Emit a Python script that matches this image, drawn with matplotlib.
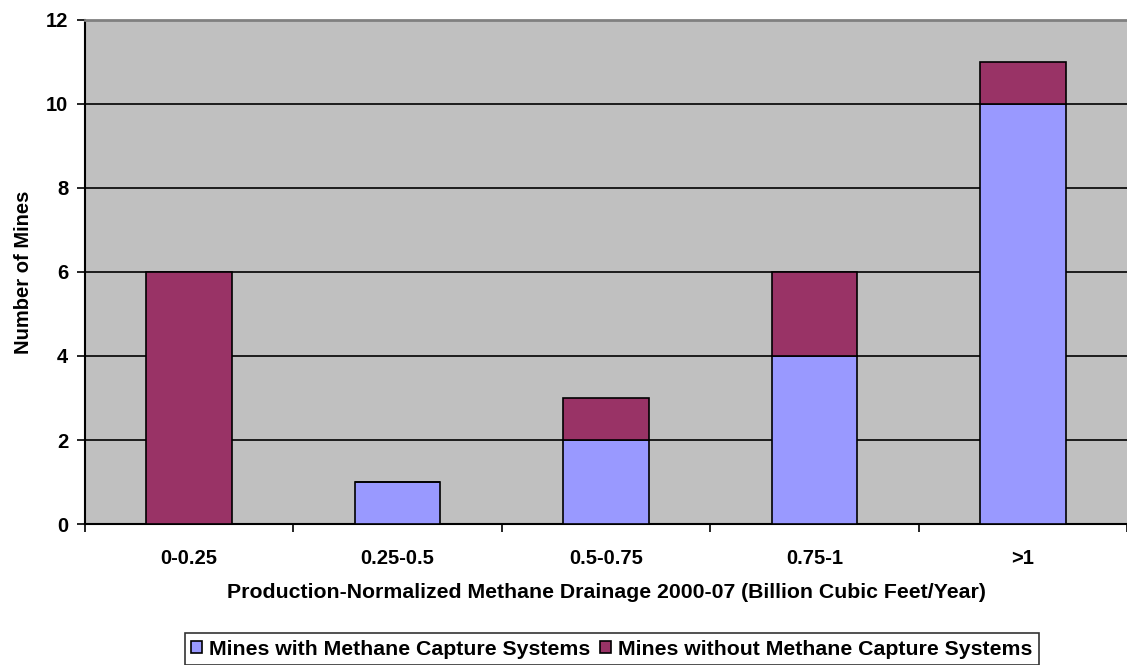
import matplotlib
matplotlib.use("Agg")
from matplotlib import pyplot as plt
import numpy as np

plt.rcParams['font.family'] = ['Liberation Sans', 'DejaVu Sans']
plt.rcParams['font.weight'] = 'bold'

categories = ['0-0.25', '0.25-0.5', '0.5-0.75', '0.75-1', '>1']
with_capture = [0, 1, 2, 4, 10]
without_capture = [6, 0, 1, 2, 1]

fs = 14.5
fs_big = 15.3

fig = plt.figure(figsize=(11.27, 6.65), dpi=100)
ax = fig.add_axes([0.0754, 0.212, 0.9246, 0.758])
ax.set_facecolor('#C0C0C0')

x = np.arange(len(categories))
w = 0.41
ax.bar(x, with_capture, w, color='#9999FF', edgecolor='black', linewidth=1.2,
       label='Mines with Methane Capture Systems', zorder=3)
ax.bar(x, without_capture, w, bottom=with_capture, color='#993366',
       edgecolor='black', linewidth=1.2,
       label='Mines without Methane Capture Systems', zorder=3)

ax.set_xlim(-0.5, len(categories) - 0.5)
ax.set_ylim(0, 12)
ax.set_yticks(range(0, 13, 2))
ax.yaxis.grid(True, color='black', linewidth=1.2, zorder=1)
ax.set_axisbelow(True)

ax.set_xticks(x)
ax.set_xticklabels(categories, fontsize=fs, fontweight='bold')
ax.tick_params(axis='x', length=0, pad=18)
ax.set_xticks(np.arange(-0.5, len(categories), 1), minor=True)
ax.tick_params(axis='x', which='minor', length=6, width=1.2, direction='out')
ax.tick_params(axis='y', length=6, width=1.2, labelsize=fs, pad=6)
for lab in ax.get_yticklabels():
    lab.set_fontweight('bold')

ax.spines['left'].set_linewidth(1.5)
ax.spines['bottom'].set_linewidth(1.5)
ax.spines['right'].set_visible(False)
ax.spines['top'].set_color('#808080')
ax.spines['top'].set_linewidth(2)

ax.set_xlabel('Production-Normalized Methane Drainage 2000-07 (Billion Cubic Feet/Year)',
              fontsize=fs_big, fontweight='bold', labelpad=11)
ax.set_ylabel('Number of Mines', fontsize=fs, fontweight='bold', labelpad=9)

leg = fig.legend(loc='center', bbox_to_anchor=(0.543, 0.0235), ncol=2,
                 fontsize=fs_big, frameon=True, fancybox=False, edgecolor='black',
                 handlelength=0.5, handleheight=0.5, handletextpad=0.35,
                 columnspacing=0.45, borderpad=0.3, borderaxespad=0)
leg.get_frame().set_linewidth(1.2)

fig.savefig('out.png', dpi=100)
